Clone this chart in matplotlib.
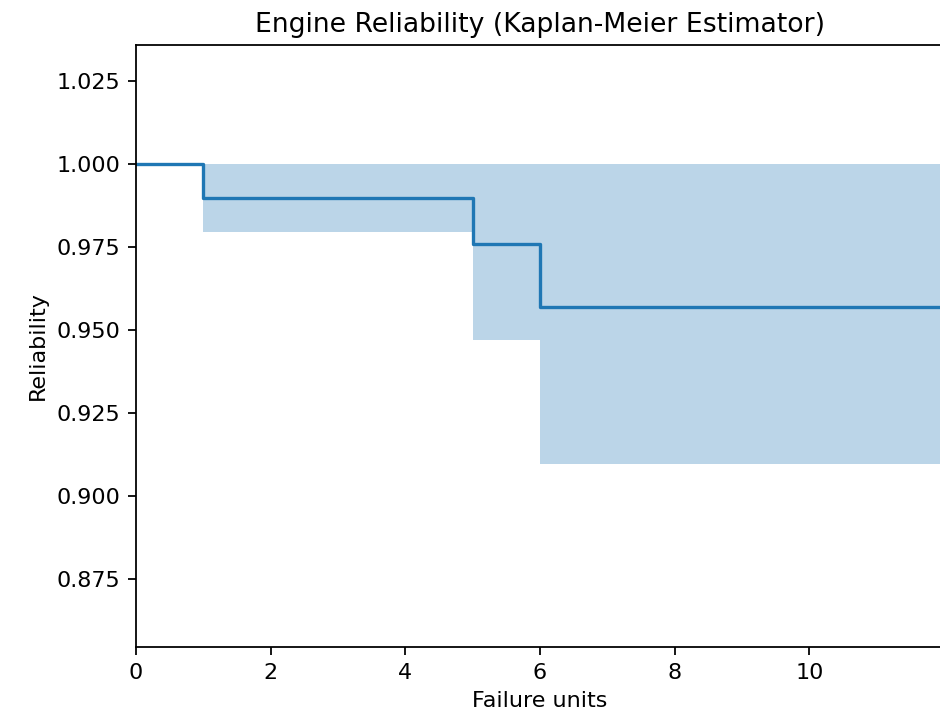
import numpy as np
import matplotlib
matplotlib.use("Agg")
import matplotlib.pyplot as plt

# Kaplan-Meier estimate
timeline = [0, 1, 5, 6, 12]
survival = [1.000, 0.9896, 0.9759, 0.9568, 0.9568]
ci_lower = [1.000, 0.9795, 0.9470, 0.9097, 0.9097]
ci_upper = [1.000, 1.000, 1.000, 1.000, 1.000]

dpi = 160
fig = plt.figure(figsize=(940 / dpi, 717 / dpi), dpi=dpi)
ax = fig.add_axes([136 / 940, 70 / 717, 808 / 940, 602 / 717])

ax.fill_between(timeline, ci_lower, ci_upper, step='post',
                color='#1f77b4', alpha=0.3, linewidth=0)
ax.step(timeline, survival, where='post', color='#1f77b4', linewidth=1.5)

ax.set_xlim(0, 12)
ax.set_ylim(0.8546, 1.0358)
ax.set_xticks([0, 2, 4, 6, 8, 10])
ax.set_yticks([0.875, 0.900, 0.925, 0.950, 0.975, 1.000, 1.025])
ax.set_yticklabels([f"{v:.3f}" for v in [0.875, 0.900, 0.925, 0.950, 0.975, 1.000, 1.025]])

ax.set_title("Engine Reliability (Kaplan-Meier Estimator)", fontsize=12)
ax.set_xlabel("Failure units")
ax.set_ylabel("Reliability")

fig.savefig("out.png", dpi=dpi)
